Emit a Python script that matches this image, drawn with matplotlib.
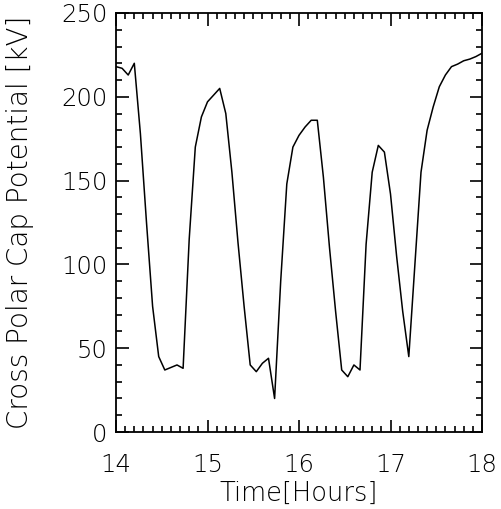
import numpy as np
import matplotlib
matplotlib.use("Agg")
import matplotlib.pyplot as plt
from matplotlib.ticker import MultipleLocator

plt.rcParams.update({'font.size': 17.5, 'font.family': 'DejaVu Sans',
                     'font.weight': 'light', 'axes.labelweight': 'light'})

# ***** cross polar cap potential, 4 minute cadence
t_start = 14.0
t_step = 4.0/60.0
cpcp = [218, 217, 213, 220, 178, 125, 75, 45, 37, 38.5,
        40, 38, 115, 170, 188, 197, 201, 205, 190, 155,
        113, 75, 40, 36, 41, 44, 20, 90, 148, 170,
        177, 182, 186, 186, 152, 110, 72, 37, 33, 40,
        37, 112, 155, 171, 167, 142, 105, 72, 45, 100,
        155, 180, 194, 206, 213, 218, 219.5, 221.5, 222.5, 224,
        226]

t = t_start + t_step*np.arange(len(cpcp))

xticks = [14, 15, 16, 17, 18]
yticks = [0, 50, 100, 150, 200, 250]

# %%%%%%%%%%%%%%%% plotting section %%%%%%%%%%%%%%%%%%%%%%%%%%
fig = plt.figure(figsize=(5.02, 5.09), dpi=100)
ax = fig.add_axes([116/502, 1-432/509, (482-116)/502, (432-13)/509])

ax.plot(t, cpcp, 'k-', lw=1.1)
ax.set_xlim(14, 18)
ax.set_ylim(0, 250)
ax.set_xticks(xticks)
ax.set_yticks(yticks)
ax.xaxis.set_minor_locator(MultipleLocator(0.1))
ax.yaxis.set_minor_locator(MultipleLocator(10))
ax.tick_params(which='both', direction='in', top=True, right=True, width=1.2)
ax.tick_params(which='major', length=9)
ax.tick_params(which='minor', length=4.5)
ax.tick_params(axis='x', pad=15)
ax.tick_params(axis='y', pad=6)
for s in ax.spines.values():
    s.set_linewidth(1.3)

ax.set_xlabel("Time[Hours]", fontsize=18.5, labelpad=3)
ax.set_ylabel("Cross Polar Cap Potential [kV]", fontsize=20, labelpad=20)

plt.savefig('out.png', dpi=100)
